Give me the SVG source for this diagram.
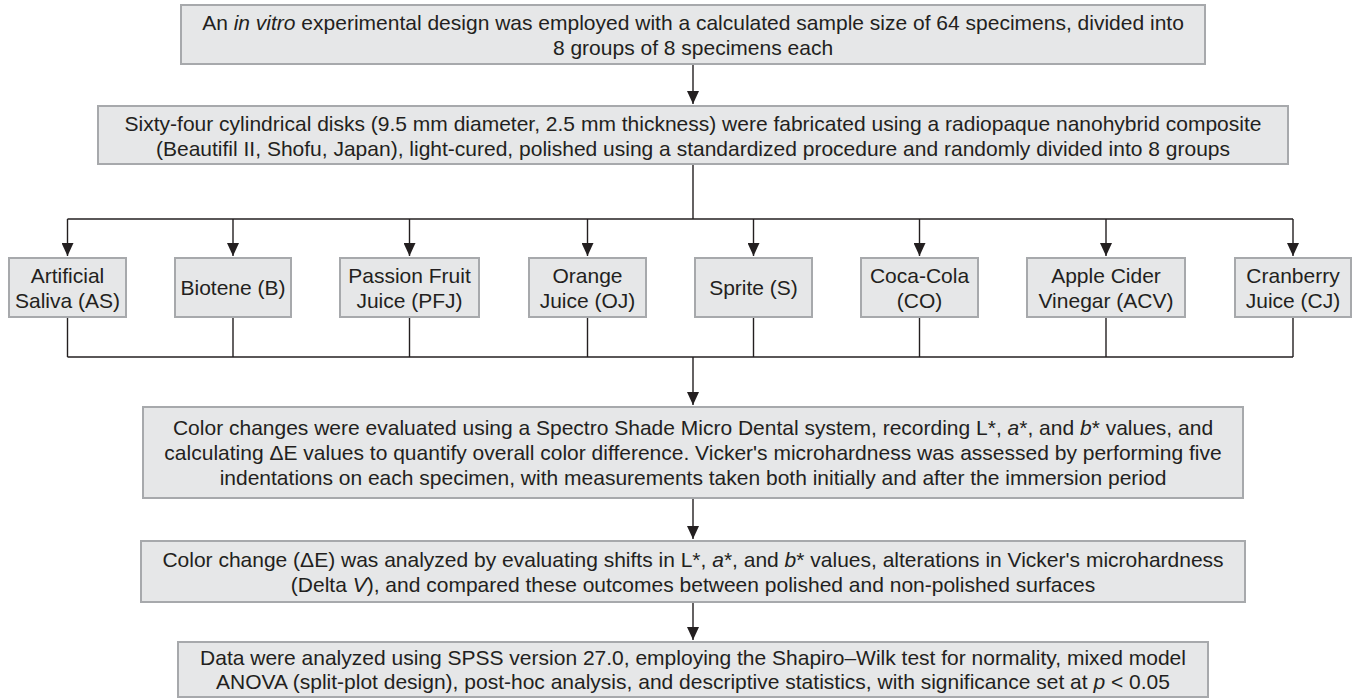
<svg xmlns="http://www.w3.org/2000/svg" width="1354" height="698" viewBox="0 0 1354 698">
<style>
.box{fill:#e6e7e8;stroke:#a7a9ac;stroke-width:2}
.t{font-family:"Liberation Sans",Arial,sans-serif;font-size:21px;fill:#231f20;text-anchor:middle}
.c{fill:none;stroke:#231f20;stroke-width:1.4}
.i{font-style:italic}
</style>
<defs>
<marker id="ah" markerUnits="userSpaceOnUse" viewBox="0 -6 13 12" refX="13" refY="0" markerWidth="13" markerHeight="12" orient="auto">
<path d="M0,-6 L13,0 L0,6 z" fill="#231f20"/>
</marker>
</defs>
<rect width="1354" height="698" fill="#ffffff"/>
<g id="connectors">
<line class="c" x1="693" y1="65" x2="693" y2="104" marker-end="url(#ah)"/>
<line class="c" x1="693" y1="165" x2="693" y2="219"/>
<line class="c" x1="67.5" y1="219" x2="1293" y2="219"/>
<line class="c" x1="67.5" y1="219" x2="67.5" y2="256" marker-end="url(#ah)"/>
<line class="c" x1="233" y1="219" x2="233" y2="256" marker-end="url(#ah)"/>
<line class="c" x1="409.5" y1="219" x2="409.5" y2="256" marker-end="url(#ah)"/>
<line class="c" x1="587.5" y1="219" x2="587.5" y2="256" marker-end="url(#ah)"/>
<line class="c" x1="753.5" y1="219" x2="753.5" y2="256" marker-end="url(#ah)"/>
<line class="c" x1="919.5" y1="219" x2="919.5" y2="256" marker-end="url(#ah)"/>
<line class="c" x1="1106" y1="219" x2="1106" y2="256" marker-end="url(#ah)"/>
<line class="c" x1="1293" y1="219" x2="1293" y2="256" marker-end="url(#ah)"/>
<line class="c" x1="67.5" y1="318" x2="67.5" y2="357"/>
<line class="c" x1="233" y1="318" x2="233" y2="357"/>
<line class="c" x1="409.5" y1="318" x2="409.5" y2="357"/>
<line class="c" x1="587.5" y1="318" x2="587.5" y2="357"/>
<line class="c" x1="753.5" y1="318" x2="753.5" y2="357"/>
<line class="c" x1="919.5" y1="318" x2="919.5" y2="357"/>
<line class="c" x1="1106" y1="318" x2="1106" y2="357"/>
<line class="c" x1="1293" y1="318" x2="1293" y2="357"/>
<line class="c" x1="67.5" y1="357" x2="1293" y2="357"/>
<line class="c" x1="693" y1="357" x2="693" y2="405" marker-end="url(#ah)"/>
<line class="c" x1="693" y1="499" x2="693" y2="539" marker-end="url(#ah)"/>
<line class="c" x1="693" y1="603" x2="693" y2="640" marker-end="url(#ah)"/>
</g>
<g id="n1">
<rect class="box" x="181" y="5" width="1024" height="59"/>
<text class="t" x="693" y="30">An <tspan class="i">in vitro</tspan> experimental design was employed with a calculated sample size of 64 specimens, divided into</text>
<text class="t" x="693" y="55">8 groups of 8 specimens each</text>
</g>
<g id="n2">
<rect class="box" x="98" y="106" width="1190" height="58"/>
<text class="t" x="693" y="130.5">Sixty-four cylindrical disks (9.5 mm diameter, 2.5 mm thickness) were fabricated using a radiopaque nanohybrid composite</text>
<text class="t" x="693" y="155.5">(Beautifil II, Shofu, Japan), light-cured, polished using a standardized procedure and randomly divided into 8 groups</text>
</g>
<g id="g_as">
<rect class="box" x="9" y="258" width="117" height="59"/>
<text class="t" x="67.5" y="283">Artificial</text>
<text class="t" x="67.5" y="308">Saliva (AS)</text>
</g>
<g id="g_b">
<rect class="box" x="175" y="258" width="116" height="59"/>
<text class="t" x="233" y="295">Biotene (B)</text>
</g>
<g id="g_pfj">
<rect class="box" x="340" y="258" width="139" height="59"/>
<text class="t" x="409.5" y="283">Passion Fruit</text>
<text class="t" x="409.5" y="308">Juice (PFJ)</text>
</g>
<g id="g_oj">
<rect class="box" x="529" y="258" width="117" height="59"/>
<text class="t" x="587.5" y="283">Orange</text>
<text class="t" x="587.5" y="308">Juice (OJ)</text>
</g>
<g id="g_s">
<rect class="box" x="695" y="258" width="117" height="59"/>
<text class="t" x="753.5" y="295">Sprite (S)</text>
</g>
<g id="g_co">
<rect class="box" x="861" y="258" width="117" height="59"/>
<text class="t" x="919.5" y="283">Coca-Cola</text>
<text class="t" x="919.5" y="308">(CO)</text>
</g>
<g id="g_acv">
<rect class="box" x="1027" y="258" width="158" height="59"/>
<text class="t" x="1106" y="283">Apple Cider</text>
<text class="t" x="1106" y="308">Vinegar (ACV)</text>
</g>
<g id="g_cj">
<rect class="box" x="1235" y="258" width="116" height="59"/>
<text class="t" x="1293" y="283">Cranberry</text>
<text class="t" x="1293" y="308">Juice (CJ)</text>
</g>
<g id="n4">
<rect class="box" x="143" y="407" width="1100" height="91"/>
<text class="t" x="693" y="435">Color changes were evaluated using a Spectro Shade Micro Dental system, recording L*, <tspan class="i">a</tspan>*, and <tspan class="i">b</tspan>* values, and</text>
<text class="t" x="693" y="460">calculating ΔE values to quantify overall color difference. Vicker's microhardness was assessed by performing five</text>
<text class="t" x="693" y="485">indentations on each specimen, with measurements taken both initially and after the immersion period</text>
</g>
<g id="n5">
<rect class="box" x="141" y="541" width="1104" height="61"/>
<text class="t" x="693" y="567">Color change (ΔE) was analyzed by evaluating shifts in L*, <tspan class="i">a</tspan>*, and <tspan class="i">b</tspan>* values, alterations in Vicker's microhardness</text>
<text class="t" x="693" y="592">(Delta <tspan class="i">V</tspan>), and compared these outcomes between polished and non-polished surfaces</text>
</g>
<g id="n6">
<rect class="box" x="178" y="642" width="1030" height="55"/>
<text class="t" x="693" y="665">Data were analyzed using SPSS version 27.0, employing the Shapiro–Wilk test for normality, mixed model</text>
<text class="t" x="693" y="689">ANOVA (split-plot design), post-hoc analysis, and descriptive statistics, with significance set at <tspan class="i">p</tspan> &lt; 0.05</text>
</g>
</svg>
